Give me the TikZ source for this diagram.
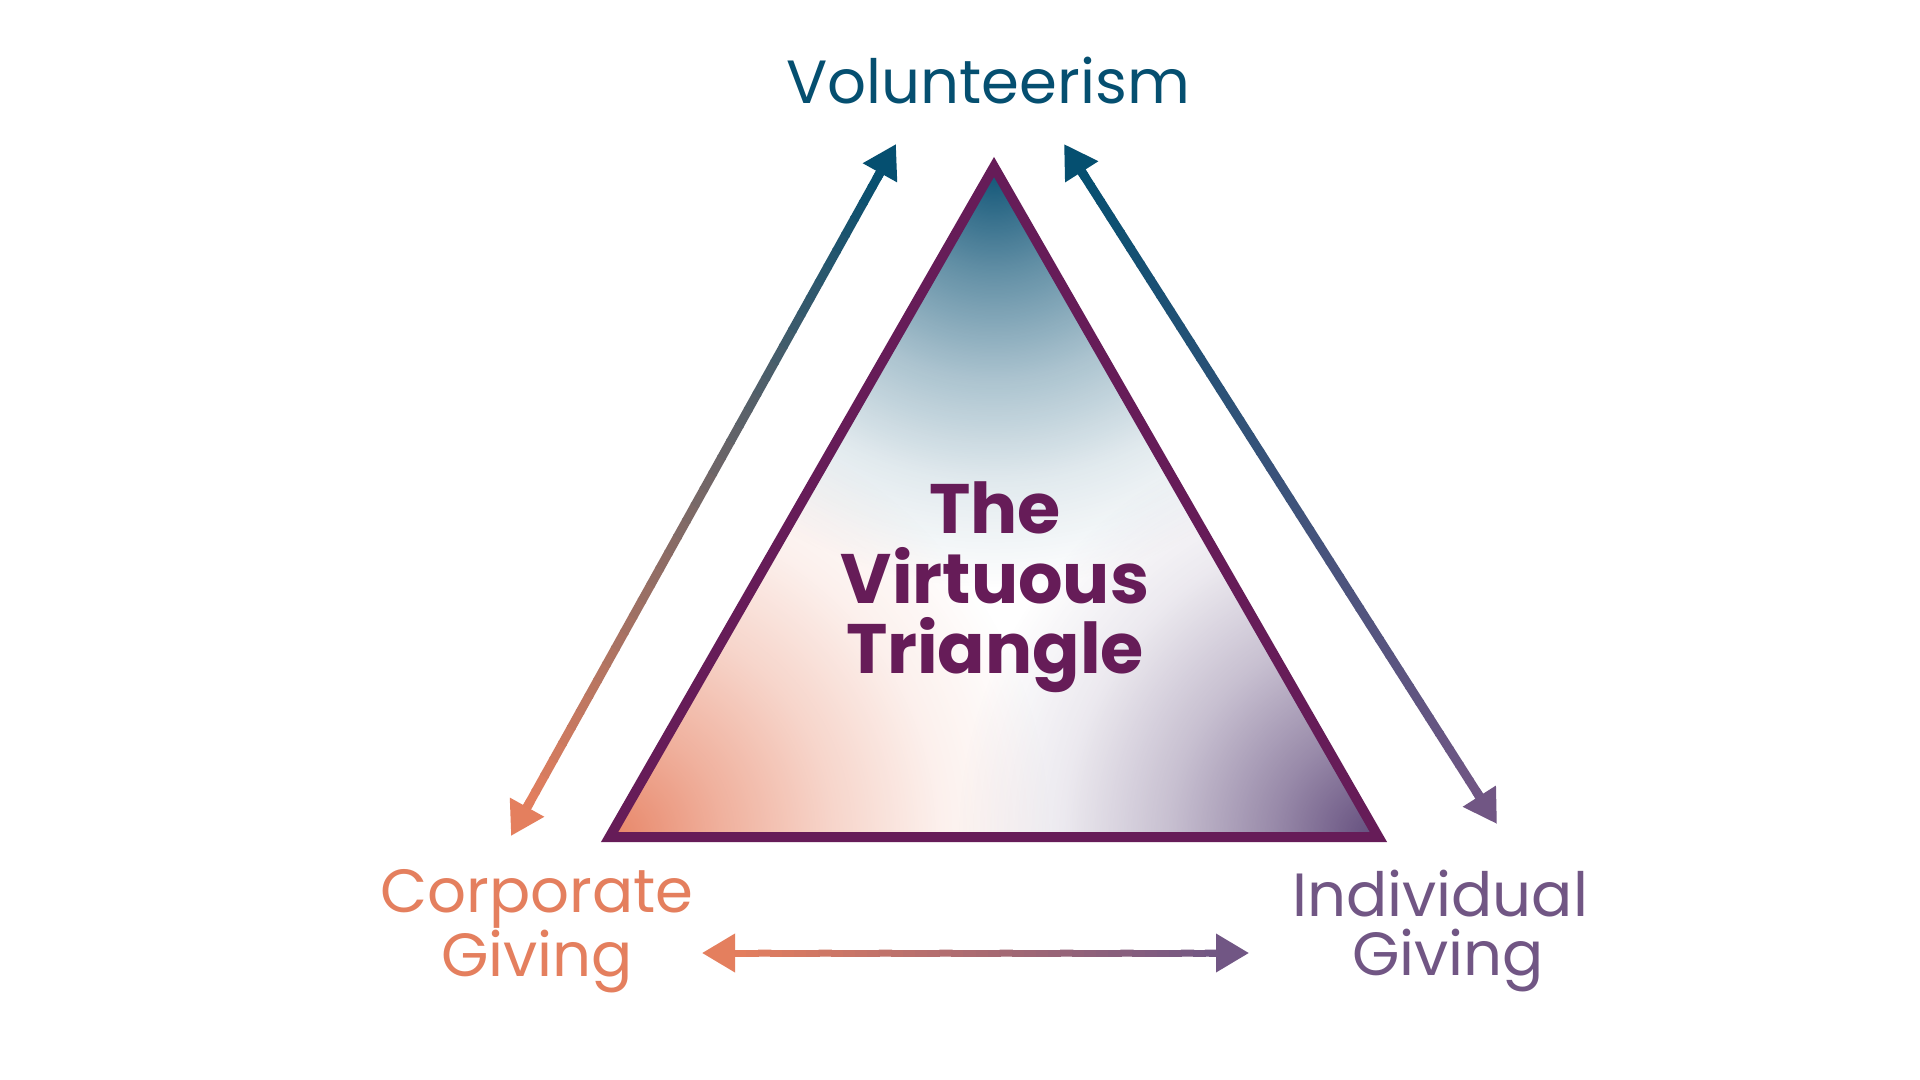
\documentclass[tikz,border=0pt]{standalone}
\usepackage{fontspec}
\setmainfont{Poppins}
\usetikzlibrary{positioning,arrows.meta,calc,fadings}

\definecolor{volteal}{RGB}{5,79,112}
\definecolor{corporange}{RGB}{228,127,94}
\definecolor{indpurple}{RGB}{113,86,132}
\definecolor{triplum}{RGB}{102,28,88}
\definecolor{glowteal}{RGB}{15,84,118}
\definecolor{gloworange}{RGB}{232,134,104}
\definecolor{glowpurple}{RGB}{98,76,124}

% soft corner glow for the triangle fill
\pgfdeclareradialshading{glowshade}{\pgfpointorigin}{color(0bp)=(white);
  color(6.25bp)=(white!65!black); color(12.5bp)=(white!35!black);
  color(18.75bp)=(white!12!black); color(25bp)=(black); color(50bp)=(black)}
\pgfdeclarefading{glow}{\pgfuseshading{glowshade}}

% two-colour double arrow: from, to, colour at from, colour at to, width
\newcommand{\twotonearrow}[5]{%
  \draw[tip, line width=#5, #3] ($(#1)!20pt!(#2)$) -- (#1);
  \draw[tip, line width=#5, #4] ($(#2)!20pt!(#1)$) -- (#2);
  \coordinate (s) at ($(#1)!16pt!(#2)$);
  \coordinate (e) at ($(#2)!16pt!(#1)$);
  \foreach \k [evaluate=\k as \p using (\k+0.5)*2.5,
               evaluate=\k as \ta using \k/40,
               evaluate=\k as \tb using (\k+1.1)/40] in {0,...,39}
    \draw[line width=#5, draw=#4!\p!#3] ($(s)!\ta!(e)$) -- ($(s)!\tb!(e)$);
}

\begin{document}
\begin{tikzpicture}[
  x=0.5pt, y=-0.5pt,
  lbl/.style={align=center, inner sep=0pt, font=\fontsize{30.5}{29.5}\selectfont},
  ttl/.style={align=center, inner sep=0pt, text=triplum,
              font=\bfseries\fontsize{35}{35}\selectfont},
  tip/.style={-{Triangle[length=16.5pt, width=18.5pt]}}
]
\useasboundingbox (0,0) rectangle (1920,1080);
\fill[white] (0,0) rectangle (1920,1080);

% triangle
\coordinate (apex) at (994,167);
\coordinate (left) at (609.6,837);
\coordinate (right) at (1378.4,837);
\begin{scope}
  \clip (apex) -- (left) -- (right) -- cycle;
  \fill[glowteal, path fading=glow] (apex) circle[radius=420];
  \fill[gloworange, path fading=glow] (left) circle[radius=440];
  \fill[glowpurple, path fading=glow] (right) circle[radius=420];
\end{scope}
\draw[triplum, line width=5pt, line join=miter] (apex) -- (left) -- (right) -- cycle;

% labels
\node[lbl, text=volteal, anchor=base] (vol) at (988,104) {Volunteerism};
\node[lbl, text=corporange] (corp) at (537,931) {Corporate\\Giving};
\node[lbl, text=indpurple] (indiv) at (1440,931) {Individual\\\hspace*{8pt}Giving};
\node[ttl] (title) at (995,587) {The\\Virtuous\\Triangle};

% arrows
\coordinate (volL) at (896,144);
\coordinate (corpU) at (511,836);
\coordinate (volR) at (1064,144);
\coordinate (indU) at (1497,824);
\coordinate (corpR) at (702,953);
\coordinate (indL) at (1249,953);
\twotonearrow{corpU}{volL}{corporange}{volteal}{4.5pt}
\twotonearrow{indU}{volR}{indpurple}{volteal}{4.5pt}
\twotonearrow{corpR}{indL}{corporange}{indpurple}{3.5pt}
\end{tikzpicture}
\end{document}
